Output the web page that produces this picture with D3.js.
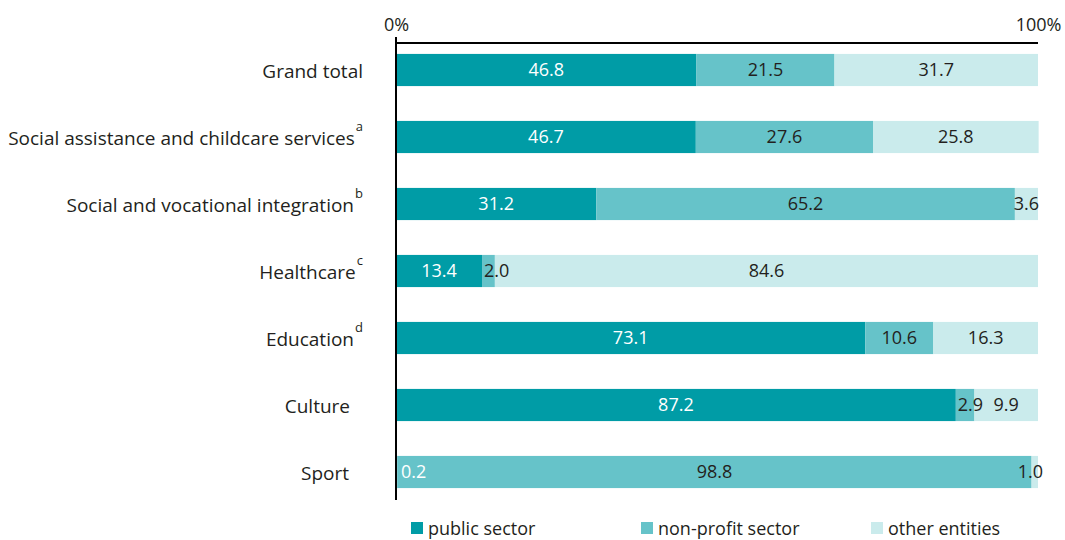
<!DOCTYPE html>
<html>
<head>
<meta charset="utf-8">
<script src="https://cdn.jsdelivr.net/npm/d3@7"></script>
<style>
  html, body { margin: 0; padding: 0; background: #fff; }
  svg { display: block; font-family: "Open Sans", "Noto Sans", sans-serif; }
</style>
</head>
<body>
<svg id="chart" width="1065" height="540"></svg>
<script>
const categories = ["Grand total", "Social assistance and childcare services", "Social and vocational integration", "Healthcare", "Education", "Culture", "Sport"];
const footnotes = ["", "a", "b", "c", "d", "", ""];
const series = ["public sector", "non-profit sector", "other entities"];
const publicSector = [46.8, 46.7, 31.2, 13.4, 73.1, 87.2, 0.2];
const nonProfitSector = [21.5, 27.6, 65.2, 2.0, 10.6, 2.9, 98.8];
const otherEntities = [31.7, 25.8, 3.6, 84.6, 16.3, 9.9, 1.0];
const tickValues = [0, 100];
const tickLabels = ["0%", "100%"];

const colors = ["#009ca6", "#66c3c9", "#caebec"];
const labelColors = ["#ffffff", "#231f20", "#231f20"];
const textColor = "#231f20";
const FONT = 18;

const svg = d3.select("#chart");
const values = [publicSector, nonProfitSector, otherEntities];

const rows = categories.map((c, i) => {
  const r = { category: c };
  series.forEach((s, j) => r[s] = values[j][i]);
  return r;
});
const stacked = d3.stack().keys(series)(rows);

const x = d3.scaleLinear().domain([0, 100]).range([396, 1038]);
const y = d3.scaleBand().domain(categories).range([36.5, 505.5]).paddingInner(0.52).paddingOuter(0.26);

// bars
const layers = svg.append("g").selectAll("g").data(stacked).join("g")
  .attr("fill", (d, i) => colors[i]);
layers.selectAll("rect").data(d => d.map(p => ({ p, cat: p.data.category }))).join("rect")
  .attr("x", d => x(d.p[0]))
  .attr("width", d => x(d.p[1]) - x(d.p[0]))
  .attr("y", d => y(d.cat))
  .attr("height", y.bandwidth());

// value labels
const labelsG = svg.append("g").attr("font-size", FONT);
stacked.forEach((layer, j) => {
  layer.forEach((p, i) => {
    const x0 = x(p[0]), x1 = x(p[1]);
    const t = labelsG.append("text")
      .attr("y", y(categories[i]) + y.bandwidth() / 2)
      .attr("dy", "0.35em")
      .attr("fill", labelColors[j])
      .attr("text-anchor", "start")
      .text(values[j][i].toFixed(1));
    const w = t.node().getComputedTextLength();
    let left = (x0 + x1) / 2 - w / 2;
    if (j === 0) left = Math.max(left, x0 + 5);
    else if (j === series.length - 1) left = Math.min(left + w, x1 + 5) - w;
    else left = Math.max(left, x0 + 2);
    t.attr("x", left);
  });
});

// top axis
const axisG = svg.append("g").attr("transform", "translate(0,43)");
const axis = d3.axisTop(x).tickValues(tickValues).tickSize(0).tickPadding(12)
  .tickFormat((d, i) => tickLabels[i]);
axisG.call(axis);
axisG.select(".domain").attr("stroke", "#000").attr("stroke-width", 2).attr("d", `M${x(0)},0H${x(100)}`);
axisG.selectAll(".tick text").attr("font-size", FONT).attr("font-family", "Open Sans, sans-serif").attr("fill", textColor);

// vertical baseline
svg.append("line")
  .attr("x1", x(0)).attr("x2", x(0))
  .attr("y1", 37).attr("y2", 500)
  .attr("stroke", "#000").attr("stroke-width", 2);

// category labels
const pad = { "Culture": 13, "Sport": 14 };
const catG = svg.append("g").attr("font-size", 19).attr("fill", textColor);
categories.forEach((c, i) => {
  const t = catG.append("text")
    .attr("x", 363 - (pad[c] || 0))
    .attr("y", y(c) + y.bandwidth() / 2 + 1)
    .attr("dy", "0.35em")
    .attr("text-anchor", "end");
  t.append("tspan").text(c);
  if (footnotes[i]) {
    t.append("tspan").attr("font-size", 13).attr("dy", "-1.05em").attr("dx", 1).text(footnotes[i]);
  }
});

// legend
const lx = d3.scalePoint().domain(series).range([411, 871]);
const leg = svg.append("g").selectAll("g").data(series).join("g")
  .attr("transform", d => `translate(${lx(d)},522)`);
leg.append("rect").attr("width", 12).attr("height", 12).attr("fill", (d, i) => colors[i]);
leg.append("text").attr("x", 17).attr("y", 13).attr("font-size", FONT).attr("fill", textColor).text(d => d);
</script>
</body>
</html>
